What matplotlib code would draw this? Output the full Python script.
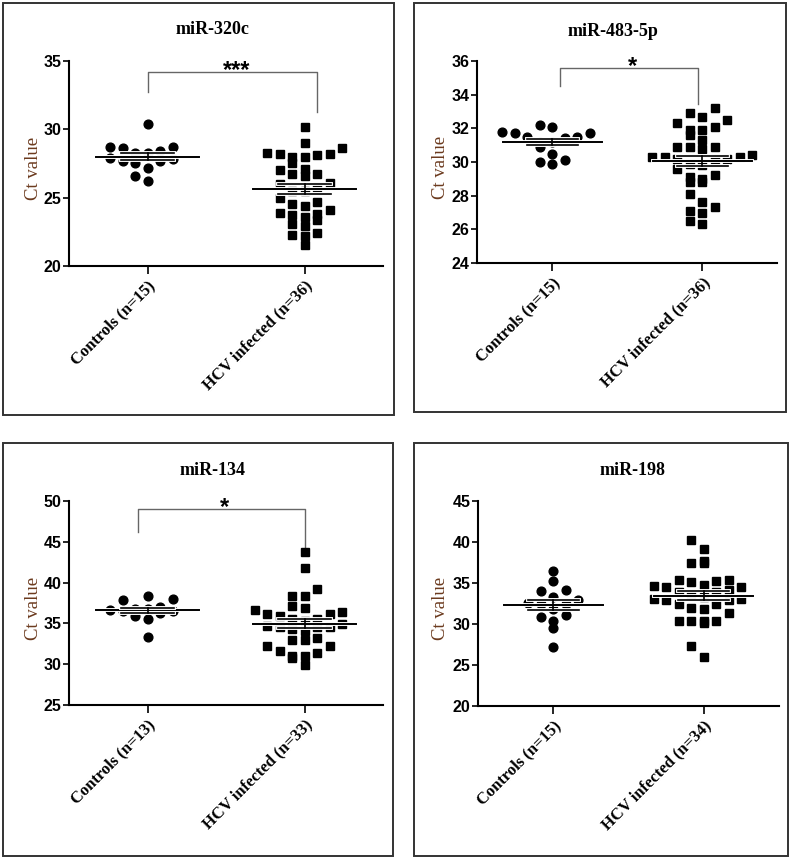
import matplotlib
matplotlib.use("Agg")
import matplotlib.pyplot as plt
import matplotlib.patheffects as pe
from matplotlib.patches import Rectangle
import numpy as np

SERIF = ["Liberation Serif", "DejaVu Serif"]
SANS = ["Liberation Sans", "DejaVu Sans"]
YLABEL_COLOR = "#6b3a1e"

# ── Datos (Ct values) ──
titles = ["miR-320c", "miR-483-5p", "miR-134", "miR-198"]
group_labels = [
    ["Controls (n=15)", "HCV infected (n=36)"],
    ["Controls (n=15)", "HCV infected (n=36)"],
    ["Controls (n=13)", "HCV infected (n=33)"],
    ["Controls (n=15)", "HCV infected (n=34)"],
]
ylims = [(20, 35), (24, 36), (25, 50), (20, 45)]
ytick_step = [5, 2, 5, 5]
signif = ["***", "*", "*", ""]

controls_320c = [30.4, 28.7, 28.7, 28.6, 28.4, 28.3, 28.3, 27.9, 27.7, 27.5,
                 27.7, 27.8, 27.2, 26.6, 26.2]
hcv_320c = [30.2, 29.0, 28.6, 28.3, 28.0, 28.2, 27.5, 28.1, 28.0, 28.2,
            27.0, 26.7, 27.1, 26.6, 26.7, 26.0, 26.1, 25.5, 25.5, 25.0,
            24.7, 24.5, 24.1, 23.6, 23.8, 23.9, 24.4, 23.7, 23.4, 23.1,
            22.9, 22.4, 22.2, 22.3, 21.5, 25.8]

controls_483 = [32.2, 32.1, 31.8, 31.7, 31.7, 31.5, 31.4, 31.5, 31.2, 30.9,
                31.2, 30.5, 30.1, 30.0, 29.9]
hcv_483 = [33.2, 32.7, 32.9, 32.5, 32.3, 32.1, 31.9, 31.9, 31.6, 31.3,
           30.9, 30.9, 30.8, 30.9, 30.2, 30.3, 30.3, 30.4, 30.3, 30.2,
           30.2, 29.9, 29.8, 29.6, 29.2, 29.1, 29.0, 28.8, 28.8, 28.1,
           27.6, 27.3, 27.1, 27.0, 26.5, 26.3]

controls_134 = [38.4, 37.9, 38.0, 36.7, 37.0, 36.5, 36.3, 36.5, 35.9, 36.8,
                35.5, 36.8, 33.3]
hcv_134 = [43.7, 41.8, 39.2, 38.4, 38.4, 36.9, 36.7, 37.1, 36.1, 36.2,
           35.9, 36.4, 35.5, 35.5, 34.7, 35.3, 34.5, 34.9, 34.5, 34.1,
           34.3, 34.5, 33.0, 33.0, 33.2, 32.2, 32.2, 31.4, 31.0, 31.6,
           30.7, 31.0, 29.9]

controls_198 = [36.5, 35.3, 34.2, 34.0, 33.3, 32.5, 32.9, 32.6, 32.5, 31.8,
                31.1, 30.9, 30.4, 29.5, 27.2]
hcv_198 = [40.2, 39.1, 37.7, 37.5, 37.5, 35.4, 35.3, 35.1, 35.4, 34.5,
           34.6, 34.8, 33.9, 34.1, 33.9, 34.5, 33.7, 33.1, 32.9, 32.5,
           33.3, 32.5, 32.9, 33.1, 31.4, 31.8, 32.0, 30.4, 30.4, 30.1,
           30.4, 30.4, 27.3, 26.0]

datasets = [
    (controls_320c, hcv_320c),
    (controls_483, hcv_483),
    (controls_134, hcv_134),
    (controls_198, hcv_198),
]

# ── Layout (fracciones de figura, 792x859 px) ──
W, H = 792, 859
boxes_px = [(3, 3, 394, 415), (414, 3, 786, 412), (3, 443, 393, 856), (414, 443, 788, 856)]
axes_px = [(69, 61, 383, 266), (477, 61, 777, 263), (69, 501, 383, 705), (478, 501, 779, 706)]
title_px = [(213, 30), (613, 32), (213, 470), (633, 470)]
ylabel_x_px = [33, 441, 33, 441]
# corchete: (x izq, x der, y barra, y pata izq, y pata der, x texto, y texto)
brackets = [
    (0.0, 1.08, 34.2, 32.7, 31.3, 0.57, 34.3),
    (0.05, 0.97, 35.57, 34.5, 33.45, 0.54, 35.7),
    (-0.06, 1.0, 49.0, 46.2, 44.2, 0.49, 49.2),
    None,
]

COL_PX = 12.5
BIN_PX = 12.0


def swarm_x(values, center, ax):
    """Posiciones x tipo GraphPad: filas por intervalo de y, columnas discretas."""
    p0 = ax.transData.transform((0, 0))
    p1 = ax.transData.transform((1, 1))
    px_x = p1[0] - p0[0]
    px_y = p1[1] - p0[1]
    dx = COL_PX / px_x
    vals = np.asarray(values, dtype=float)
    lo = ax.get_ylim()[0]
    bins = np.floor((vals - lo) * px_y / BIN_PX).astype(int)
    xs = np.zeros(len(vals))
    seq = [0]
    for k in range(1, 12):
        seq += [-k, k]
    for b in np.unique(bins):
        idx = np.where(bins == b)[0]
        idx = idx[np.argsort(vals[idx])]
        for j, ii in enumerate(idx):
            xs[ii] = center + seq[j] * dx
    return xs


fig = plt.figure(figsize=(W / 100, H / 100), dpi=100)

for i in range(4):
    bx0, by0, bx1, by1 = boxes_px[i]
    fig.patches.append(Rectangle((bx0 / W, 1 - by1 / H), (bx1 - bx0) / W, (by1 - by0) / H,
                                 transform=fig.transFigure, fill=False,
                                 edgecolor="#333333", linewidth=1.4))
    ax0, ay0, ax1, ay1 = axes_px[i]
    ax = fig.add_axes([ax0 / W, 1 - ay1 / H, (ax1 - ax0) / W, (ay1 - ay0) / H])
    ax.set_xlim(-0.5, 1.5)
    lo, hi = ylims[i]
    ax.set_ylim(lo, hi)
    ax.set_yticks(np.arange(lo, hi + 0.1, ytick_step[i]))
    ax.set_xticks([0, 1])
    ax.set_xticklabels(group_labels[i], rotation=45, ha="right", va="top",
                       rotation_mode="anchor", family=SERIF, fontweight="bold", fontsize=12)
    for lab in ax.get_yticklabels():
        lab.set_family(SANS)
        lab.set_fontweight("bold")
        lab.set_fontsize(11.5)
    ax.tick_params(axis="y", length=4.5, width=1.2, pad=1)
    ax.tick_params(axis="x", length=5.5, width=1.2, pad=3)
    for s in ["top", "right"]:
        ax.spines[s].set_visible(False)
    for s in ["left", "bottom"]:
        ax.spines[s].set_linewidth(1.5)
    ax.patch.set_alpha(0)

    ctrl, hcv = datasets[i]
    for g, (vals, mk, ms) in enumerate([(ctrl, "o", 6.3), (hcv, "s", 6.0)]):
        xs = swarm_x(vals, g, ax)
        ax.plot(xs, vals, linestyle="none", marker=mk, markersize=ms,
                color="black", zorder=3, clip_on=False)
        m = np.mean(vals)
        sem = np.std(vals, ddof=1) / np.sqrt(len(vals))
        halo = [pe.Stroke(linewidth=2.8, foreground="white"), pe.Normal()]
        ax.plot([g - 0.33, g + 0.33], [m, m], color="black", lw=1.4, zorder=4,
                path_effects=halo)
        ax.plot([g - 0.17, g + 0.17], [m + sem, m + sem], color="black", lw=1.2,
                zorder=4, path_effects=halo)
        ax.plot([g - 0.17, g + 0.17], [m - sem, m - sem], color="black", lw=1.2,
                zorder=4, path_effects=halo)
        ax.plot([g, g], [m - sem, m + sem], color="black", lw=1.2, zorder=4)

    br = brackets[i]
    if br is not None:
        xl, xr, yb, yl, yr, xt, yt = br
        ax.plot([xl, xl, xr, xr], [yl, yb, yb, yr], color="#666666", lw=1.0,
                clip_on=False, zorder=2)
        ax.text(xt, yt, signif[i], ha="center", va="center", fontsize=17,
                fontweight="bold", family=SANS, clip_on=False)

    tx, ty = title_px[i]
    fig.text(tx / W, 1 - ty / H, titles[i], ha="center", va="center",
             family=SERIF, fontweight="bold", fontsize=13)
    fig.text(ylabel_x_px[i] / W, 1 - ((ay0 + ay1) / 2 + 5) / H, "Ct value",
             rotation=90, ha="center", va="center", family=SERIF,
             fontsize=13.5, color=YLABEL_COLOR)

fig.savefig("out.png", dpi=100)
